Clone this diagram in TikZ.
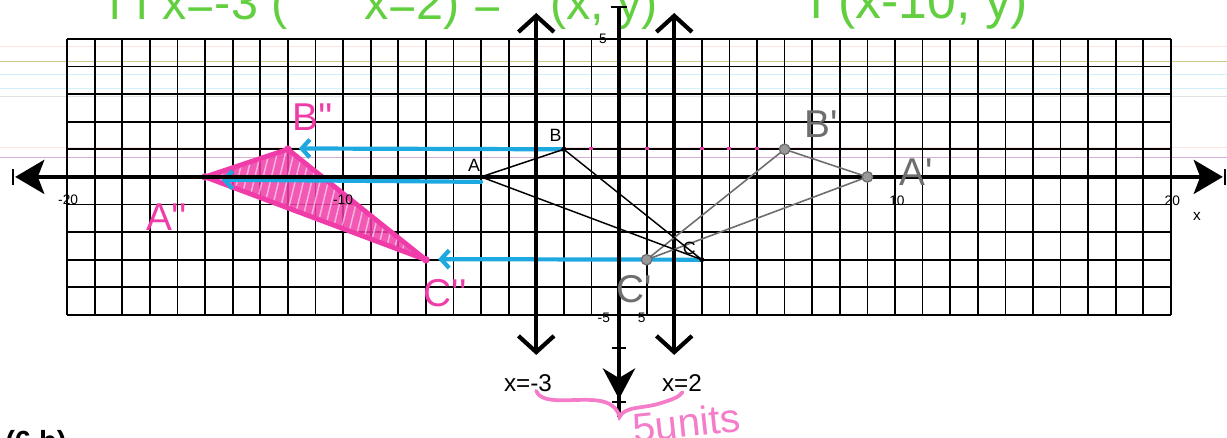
\documentclass[tikz,border=0pt]{standalone}
\usepackage{fontspec}
\setmainfont{Liberation Sans}
\usetikzlibrary{arrows.meta}
\definecolor{rfblue}{HTML}{1EA8E0}
\definecolor{rfpink}{HTML}{F03CA8}
\definecolor{rflight}{HTML}{F47CC8}
\definecolor{rfgreen}{HTML}{62CF40}
\definecolor{rfgray}{HTML}{6E6E6E}

\begin{document}
\begin{tikzpicture}[x=0.6cm, y=0.6cm,
  gridline/.style={line width=1.1pt, black, step=0.6cm},
  paper/.style={line width=0.6pt, opacity=0.45},
  axisline/.style={line width=2.5pt, black},
  axistick/.style={line width=1.1pt, black},
  mirror/.style={line width=2.6pt, black,
    {Straight Barb[length=10pt,width=22pt]}-{Straight Barb[length=10pt,width=22pt]}},
  tri/.style={line width=0.9pt, black, line join=round},
  image1/.style={line width=1pt, rfgray, line join=round},
  image2/.style={line width=3pt, rfpink, line join=round},
  slide/.style={line width=2.6pt, rfblue, line cap=round, -{Straight Barb[length=5pt,width=11pt]}},
  ticklbl/.style={font=\fontsize{8.5}{10}\selectfont, inner sep=0pt},
  ptlbl/.style={font=\fontsize{11}{13}\selectfont, inner sep=0pt},
  linelbl/.style={font=\fontsize{15}{17}\selectfont, inner sep=0pt},
  hand/.style={font=\fontsize{24}{26}\selectfont, inner sep=0pt},
  greennote/.style={rfgreen, font=\fontsize{30}{32}\selectfont, inner sep=0pt, anchor=base west}
]
\useasboundingbox (-22.43,-9.46) rectangle (22.03,6.41);

% lined paper showing through the scan
\foreach \yy/\cc in {4.71/pink, 4.17/olive, 3.70/cyan!40, 3.22/cyan!40, 2.90/gray!50, 1.05/pink, 0.69/violet!70}
  \draw[paper, \cc] (-22.43,\yy) -- (22.03,\yy);

% green notes, cut off at the top edge
\node[greennote] (g1) at (-18.51,5.69) {ı ı x=-3 (};
\node[greennote] (g2) at (-9.24,5.69) {x=2) =};
\node[greennote] (g3) at (-2.5,5.69) {(x, y)};
\node[greennote, font=\fontsize{32}{34}\selectfont] (g4) at (6.9,5.75) {ı (x-10, y)};

% grid
\draw[gridline] (-20,-5) grid (20,5);

% points
\coordinate (A) at (-5,0);  \coordinate (B) at (-2,1);  \coordinate (C) at (3,-3);
\coordinate (A1) at (9,0);  \coordinate (B1) at (6,1);  \coordinate (C1) at (1,-3);
\coordinate (A2) at (-15,0); \coordinate (B2) at (-12,1); \coordinate (C2) at (-7,-3);

% second image, shaded
\fill[rfpink, opacity=0.85] (A2) -- (B2) -- (C2) -- cycle;
\begin{scope}
  \clip (A2) -- (B2) -- (C2) -- cycle;
  \foreach \i in {-16.4,-16.1,...,-6}
    \draw[white, opacity=0.55, line width=0.9pt] (\i,-3.3) -- ++(1.1,4.5);
\end{scope}
\draw[image2] (A2) -- (B2) -- (C2) -- cycle;
\foreach \p in {A2,B2,C2} \fill[rfpink] (\p) circle (0.14);

% pink dots along y=1
\foreach \i in {-3,...,5} \fill[rfpink] (\i-0.07,0.99) rectangle (\i+0.07,1.07);

% blue slides
\coordinate (eA) at (-14.4,-0.1); \coordinate (sA) at (-5,-0.18);
\coordinate (eB) at (-11.6,1.03);
\coordinate (eC) at (-6.55,-2.98);
\draw[slide] (B) -- (eB);
\draw[slide] (sA) -- (eA);
\draw[slide] (C) -- (eC);

% x axis
\coordinate (xl) at (-21.88,0); \coordinate (xr) at (21.88,0);
\draw[axisline, {Stealth[length=18pt,width=21pt,inset=4pt]}-{Stealth[length=18pt,width=21pt,inset=4pt]}] (xl) -- (xr);
\draw[axistick] (-21.97,-0.3) -- (-21.97,0.3);
\draw[axistick] (21.97,-0.3) -- (21.97,0.3);

% y axis
\coordinate (ytop) at (0,6.15); \coordinate (ybot) at (0,-8.7); \coordinate (ytip) at (0,-8.05);
\draw[axisline, line width=2.2pt] (ytop) -- (ybot);
\draw[axisline, line width=2.2pt, -{Stealth[length=19pt,width=20pt,inset=6pt]}] (0,-6.6) -- (ytip);
\draw[axistick] (-0.3,6.15) -- (0.3,6.15);
\draw[axistick] (-0.25,-6.2) -- (0.25,-6.2);
\draw[axistick] (-0.25,-8.15) -- (0.25,-8.15);

% lines of reflection
\coordinate (m1t) at (-3,5.94); \coordinate (m1b) at (-3,-6.45);
\coordinate (m2t) at (2,5.94);  \coordinate (m2b) at (2,-6.45);
\draw[mirror] (m1t) -- (m1b);
\draw[mirror] (m2t) -- (m2b);
\node[linelbl] (lm1) at (-3.3,-7.46) {x=-3};
\node[linelbl] (lm2) at (2.28,-7.46) {x=2};

% tick labels
\node[ticklbl] (tm20) at (-19.96,-0.82) {-20};
\node[ticklbl] (tm10) at (-10,-0.82) {-10};
\node[ticklbl] (tp10) at (10.07,-0.85) {10};
\node[ticklbl] (tp20) at (20.05,-0.88) {20};
\node[ticklbl, font=\fontsize{9.5}{11}\selectfont] (xlbl) at (20.94,-1.45) {x};
\node[ticklbl] (ty5) at (-0.58,5.02) {5};
\node[ticklbl] (tym5) at (-0.55,-5.1) {-5};
\node[ticklbl] (tym5b) at (0.82,-5.1) {5};

% first image, gray
\draw[image1] (A1) -- (B1) -- (C1) -- cycle;
\foreach \p in {A1,B1,C1} \filldraw[fill=rfgray!70, draw=rfgray, line width=0.8pt] (\p) circle (0.19);

% original triangle
\draw[tri] (A) -- (B) -- (C) -- cycle;
\foreach \p in {A,B,C} \fill (\p) circle (0.09);
\node[ptlbl] (lA) at (-5.25,0.43) {A};
\node[ptlbl] (lB) at (-2.3,1.5) {B};
\node[ptlbl] (lC) at (2.55,-2.6) {C};

% handwritten labels
\node[hand, rfgray] (lA1) at (10.76,0.18) {A\textquotesingle};
\node[hand, rfgray] (lB1) at (7.32,1.92) {B\textquotesingle};
\node[hand, rfgray] (lC1) at (0.54,-4.06) {C\textquotesingle};
\node[hand, rfpink] (lA2) at (-16.4,-1.45) {A\textquotesingle\textquotesingle};
\node[hand, rfpink] (lB2) at (-11.1,2.17) {B\textquotesingle\textquotesingle};
\node[hand, rfpink] (lC2) at (-6.3,-4.2) {C\textquotesingle\textquotesingle};

% distance between the lines
\coordinate (br1) at (-3.0,-7.75); \coordinate (br2) at (0.02,-8.7); \coordinate (br3) at (2.3,-7.8);
\draw[rflight, line width=2.3pt, line cap=round]
  (br1) .. controls (-2.8,-8.3) and (-1.6,-8.0) .. (-0.8,-8.1)
        .. controls (-0.3,-8.15) and (-0.05,-8.4) .. (br2)
        .. controls (0.2,-8.3) and (0.9,-8.4) .. (1.5,-8.2)
        .. controls (2.0,-8.05) and (2.2,-7.95) .. (br3);
\node[hand, rflight, font=\fontsize{25}{27}\selectfont, rotate=6] (units) at (2.45,-8.9) {5units};

% next question, cut off at the bottom edge
\node[font=\fontsize{18}{20}\selectfont\bfseries, inner sep=0pt, anchor=base west] (q6b) at (-22.25,-9.95) {(6 b)};
\end{tikzpicture}
\end{document}
